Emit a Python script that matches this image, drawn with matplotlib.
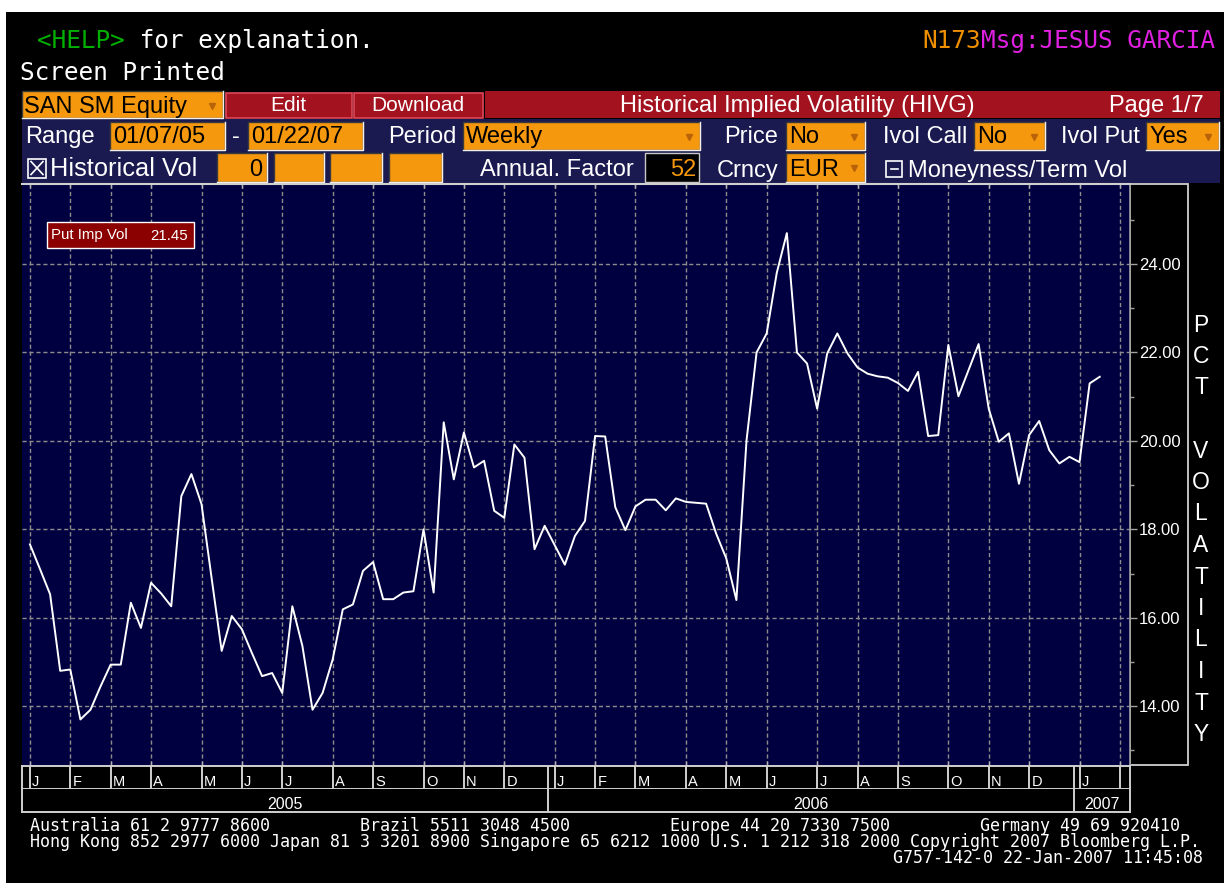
import numpy as np
import pandas as pd
import matplotlib
matplotlib.use('Agg')
import matplotlib.pyplot as plt
from matplotlib.patches import Rectangle
import matplotlib.dates as mdates

# ---------------- data ----------------
start_date = '2005-01-07'
put_imp_vol = [17.66, 17.10, 16.53, 14.80, 14.83, 13.70, 13.92, 14.45, 14.94, 14.94,
               16.34, 15.77, 16.79, 16.55, 16.26, 18.75, 19.25, 18.57, 16.90, 15.25,
               16.04, 15.74, 15.20, 14.68, 14.75, 14.30, 16.26, 15.36, 13.92, 14.30,
               15.06, 16.19, 16.30, 17.06, 17.26, 16.42, 16.42, 16.57, 16.60, 18.00,
               16.57, 20.42, 19.13, 20.19, 19.40, 19.55, 18.42, 18.26, 19.92, 19.62,
               17.55, 18.08, 17.64, 17.20, 17.85, 18.19, 20.11, 20.10, 18.50, 17.98,
               18.52, 18.67, 18.67, 18.43, 18.70, 18.62, 18.60, 18.58, 17.90, 17.34,
               16.40, 20.00, 22.00, 22.43, 23.80, 24.70, 22.00, 21.75, 20.73, 21.98,
               22.43, 21.98, 21.66, 21.52, 21.46, 21.43, 21.31, 21.13, 21.56, 20.11,
               20.13, 22.17, 21.01, 21.60, 22.19, 20.73, 19.98, 20.17, 19.03, 20.13,
               20.45, 19.79, 19.49, 19.64, 19.52, 21.30, 21.45]
y_ticks = [14, 16, 18, 20, 22, 24]
month_letters = ['J', 'F', 'M', 'A', 'M', 'J', 'J', 'A', 'S', 'O', 'N', 'D']
years = [2005, 2006, 2007]
series_label = 'Put Imp Vol'
axis_label = 'PCT VOLATILITY'
calendar_end = '2007-02-28'

# ---------------- style ----------------
W, H = 1224, 883
plt.rcParams['lines.scale_dashes'] = False
plt.rcParams['font.family'] = ['Liberation Sans', 'DejaVu Sans']
MONO = ['DejaVu Sans Mono']
SANS = ['Liberation Sans', 'DejaVu Sans']
ORANGE = '#f5980e'
RED = '#a3121f'
NAVY_H = '#1a1a50'
NAVY_P = '#000040'
GRID = '#8c8c8c'
BORDER = '#d0d0d0'
MONO_PT = 17.6
ADV = 0.602 * MONO_PT / 72 * 100  # monospace advance in pixels

dates = pd.date_range(start_date, periods=len(put_imp_vol), freq='W-FRI')
cal = pd.date_range(start_date, calendar_end, freq='W-FRI')
month_starts = [d for k, d in enumerate(cal) if k == 0 or d.month != cal[k - 1].month]
year_starts = [pd.Timestamp(f'{y}-01-01') for y in years]
x_left = mdates.date2num(dates[0] - pd.Timedelta(days=5.5))
x_right = mdates.date2num(dates[0] + pd.Timedelta(days=763))

fig = plt.figure(figsize=(W / 100, H / 100), dpi=100, facecolor='black')

# background / chrome axes in pixel coordinates
bg = fig.add_axes([0, 0, 1, 1])
bg.set_xlim(0, W)
bg.set_ylim(H, 0)
bg.axis('off')


def rect(a, x0, y0, x1, y1, fc, ec='none', lw=1.0, z=1):
    a.add_patch(Rectangle((x0, y0), x1 - x0, y1 - y0, facecolor=fc,
                          edgecolor=ec, lw=lw, zorder=z))


def txt(a, x, y, s, size, color, family=SANS, ha='left', va='baseline', z=5):
    a.text(x, y, s, fontsize=size, color=color, family=family, ha=ha, va=va, zorder=z)


def arrow(x, y):
    bg.plot([x], [y], marker='v', ms=5, color='#b8620a', mec='#b8620a', zorder=6)


def obox(x0, x1, y0, y1, s='', base=0, right=False, dd=False):
    rect(bg, x0, y0, x1, y1, ORANGE, ec='#3a3a3a', lw=1.0, z=2)
    bg.plot([x0, x1, x1], [y1, y1, y0], color='#f0f0f0', lw=1.0, zorder=3)
    if s:
        if right:
            txt(bg, x1 - 4, base, s, 17, 'black', ha='right')
        else:
            txt(bg, x0 + 3, base, s, 17, 'black')
    if dd:
        arrow(x1 - 11, (y0 + y1) / 2 + 1)


# white border of the screenshot
rect(bg, 0, 0, W, 12, 'white', z=0)
rect(bg, 0, 0, 6, H, 'white', z=0)

# top terminal lines
txt(bg, 37, 48, '<HELP>', MONO_PT, '#00b000', MONO)
txt(bg, 37 + 6 * ADV, 48, ' for explanation.', MONO_PT, 'white', MONO)
txt(bg, 20, 80.5, 'Screen Printed', MONO_PT, 'white', MONO)
txt(bg, 922, 48, 'N173', MONO_PT, '#f09000', MONO)
txt(bg, 922 + 4 * ADV, 48, 'Msg:JESUS GARCIA', MONO_PT, '#e020e0', MONO)

# row 3: ticker, buttons, banner
obox(21.5, 223, 91, 118, 'SAN SM Equity', base=112.5, dd=True)
rect(bg, 225.5, 92.5, 352, 117.5, RED, ec='#e04858', lw=1.2, z=2)
txt(bg, 288.5, 111, 'Edit', 15, 'white', ha='center')
rect(bg, 354, 92.5, 482.5, 117.5, RED, ec='#e04858', lw=1.2, z=2)
txt(bg, 418, 111, 'Download', 15, 'white', ha='center')
rect(bg, 485, 90.5, 1220, 118, RED, z=2)
txt(bg, 797, 112, 'Historical Implied Volatility (HIVG)', 17, 'white', ha='center')
txt(bg, 1204, 112, 'Page 1/7', 17, 'white', ha='right')

# rows 4-5: navy control panel
rect(bg, 21.5, 118.5, 1220, 183, NAVY_H, z=1)
b4 = 143
txt(bg, 25, b4, 'Range', 17, 'white')
obox(110, 225, 121.5, 150, '01/07/05', base=b4)
txt(bg, 236, b4, '-', 17, 'white', ha='center')
obox(248, 363, 121.5, 150, '01/22/07', base=b4)
txt(bg, 388, b4, 'Period', 17, 'white')
obox(463, 700, 121.5, 150, 'Weekly', base=b4, dd=True)
txt(bg, 778, b4, 'Price', 17, 'white', ha='right')
obox(786, 865, 121.5, 150, 'No', base=b4, dd=True)
txt(bg, 967, b4, 'Ivol Call', 17, 'white', ha='right')
obox(974, 1045, 121.5, 150, 'No', base=b4, dd=True)
txt(bg, 1140, b4, 'Ivol Put', 17, 'white', ha='right')
obox(1146, 1219, 121.5, 150, 'Yes', base=b4, dd=True)

b5 = 176.5
rect(bg, 28, 158.5, 46, 177.5, 'none', ec='white', lw=1.2, z=3)
bg.plot([31, 43], [161.5, 174.5], color='white', lw=1.2, zorder=3)
bg.plot([31, 43], [174.5, 161.5], color='white', lw=1.2, zorder=3)
txt(bg, 50, b5, 'Historical Vol', 18.3, 'white')
obox(216.5, 266.5, 152.5, 181.5, '0', base=b5, right=True)
obox(274, 324, 152.5, 181.5)
obox(330, 381.5, 152.5, 181.5)
obox(389, 441.5, 152.5, 181.5)
txt(bg, 480, b5, 'Annual. Factor', 17, 'white')
rect(bg, 645, 153, 699, 182, 'black', ec='#c8c8c8', lw=1.0, z=2)
txt(bg, 696, b5, '52', 17, ORANGE, ha='right')
txt(bg, 778, b5, 'Crncy', 17, 'white', ha='right')
obox(786, 865, 152.5, 181.5, 'EUR', base=b5, dd=True)
rect(bg, 886, 160.5, 902, 176.5, 'none', ec='white', lw=1.2, z=3)
bg.plot([890.5, 897.5], [168.5, 168.5], color='white', lw=1.2, zorder=3)
txt(bg, 908, b5, 'Moneyness/Term Vol', 17, 'white')

# right axis box
rect(bg, 1130, 184, 1188, 765, 'black', ec=BORDER, lw=1.3, z=1)
for k, ch in enumerate(axis_label):
    if ch != ' ':
        txt(bg, 1201, 325 + 31.5 * k, ch, 16.5, 'white', ha='center', va='center')

# ---------------- main plot ----------------
ax = fig.add_axes([22 / W, 1 - 765 / H, 1108 / W, 581 / H])
ax.set_facecolor(NAVY_P)
for v in y_ticks:
    ax.axhline(v, color=GRID, lw=1.0, ls=(0, (3, 2)), zorder=1)
for d in month_starts:
    ax.axvline(d, color=GRID, lw=1.0, ls=(0, (3, 2)), zorder=1)
ax.plot(dates, put_imp_vol, color='white', lw=1.4, zorder=3)
ax.set_xlim(x_left, x_right)
ax.set_ylim(12.67, 25.81)

ax.yaxis.tick_right()
ax.set_yticks(y_ticks)
ax.set_yticklabels([f'{v:.2f}' for v in y_ticks])
ax.set_yticks(np.arange(y_ticks[0] - 1, y_ticks[-1] + 2, 2), minor=True)
ax.tick_params(axis='y', which='major', direction='out', length=5, width=1,
               color='#a0a0a0', labelcolor='white', labelsize=12, pad=1.5)
ax.tick_params(axis='y', which='minor', direction='out', length=3, width=1, color='#a0a0a0')
ax.set_xticks([mdates.date2num(d) for d in month_starts])
ax.set_xticklabels([])
ax.tick_params(axis='x', which='major', top=True, bottom=True, direction='in',
               length=3, width=1, color='#b0b0b0', labelbottom=False)
ax.xaxis.set_minor_locator(matplotlib.ticker.NullLocator())
ax.spines['left'].set_visible(False)
ax.spines['bottom'].set_visible(False)
ax.spines['top'].set_color(BORDER)
ax.spines['top'].set_linewidth(1.5)
ax.spines['right'].set_color('#a0a0a0')
ax.spines['right'].set_linewidth(1.2)

# month row
axm = fig.add_axes([22 / W, 1 - 789.3 / H, 1108 / W, 23.5 / H])
axm.set_facecolor('black')
axm.set_xlim(x_left, x_right)
axm.set_ylim(0, 1)
axm.set_xticks([])
axm.set_yticks([])
for s in axm.spines.values():
    s.set_color(BORDER)
    s.set_linewidth(1.4)
seps = sorted([mdates.date2num(d) for d in month_starts] +
              [mdates.date2num(d) for d in year_starts if x_left < mdates.date2num(d) < x_right])
for xv in seps:
    axm.axvline(xv, color=BORDER, lw=1.4)
for d in month_starts:
    xv = mdates.date2num(d)
    nxt = [s for s in seps if s > xv] + [x_right]
    if nxt[0] - xv > 10:
        axm.text(xv + 1.6, 0.12, month_letters[d.month - 1], fontsize=10.5, color='white',
                 ha='left', va='baseline')

# year row
axy = fig.add_axes([22 / W, 1 - 811.7 / H, 1108 / W, 22.4 / H])
axy.set_facecolor('black')
axy.set_xlim(x_left, x_right)
axy.set_ylim(0, 1)
axy.set_xticks([])
axy.set_yticks([])
for s in axy.spines.values():
    s.set_color(BORDER)
    s.set_linewidth(1.4)
axy.spines['top'].set_visible(False)
for y in years:
    a = max(x_left, mdates.date2num(pd.Timestamp(f'{y}-01-01')))
    b = min(x_right, mdates.date2num(pd.Timestamp(f'{y + 1}-01-01')))
    if a > x_left:
        axy.axvline(a, color=BORDER, lw=1.4)
    axy.text((a + b) / 2, 0.1, str(y), fontsize=11.5, color='white', ha='center', va='baseline')

# ---------------- overlay: legend + footer ----------------
ov = fig.add_axes([0, 0, 1, 1], facecolor='none')
ov.set_xlim(0, W)
ov.set_ylim(H, 0)
ov.axis('off')
rect(ov, 47, 222, 194, 248, '#8b0000', ec='white', lw=1.0, z=5)
txt(ov, 51, 239.5, series_label, 10.8, 'white', z=6)
txt(ov, 188, 239.5, f'{put_imp_vol[-1]:.2f}', 10.8, 'white', ha='right', z=6)

line1 = ('Australia 61 2 9777 8600'.ljust(33) + 'Brazil 5511 3048 4500'.ljust(31)
         + 'Europe 44 20 7330 7500'.ljust(31) + 'Germany 49 69 920410')
line2 = ('Hong Kong 852 2977 6000 Japan 81 3 3201 8900 Singapore 65 6212 1000 '
         'U.S. 1 212 318 2000 Copyright 2007 Bloomberg L.P.')
line3 = 'G757-142-0 22-Jan-2007 11:45:08'
for yy, ln in zip([831, 847], [line1, line2]):
    txt(ov, 29.5, yy, ln, 12, 'white', MONO, z=6)
txt(ov, 29.5 + len(line2) * 0.602 * 12 / 72 * 100, 863, line3, 12, 'white', MONO, ha='right', z=6)

fig.savefig('out.png', dpi=100, facecolor='black')
